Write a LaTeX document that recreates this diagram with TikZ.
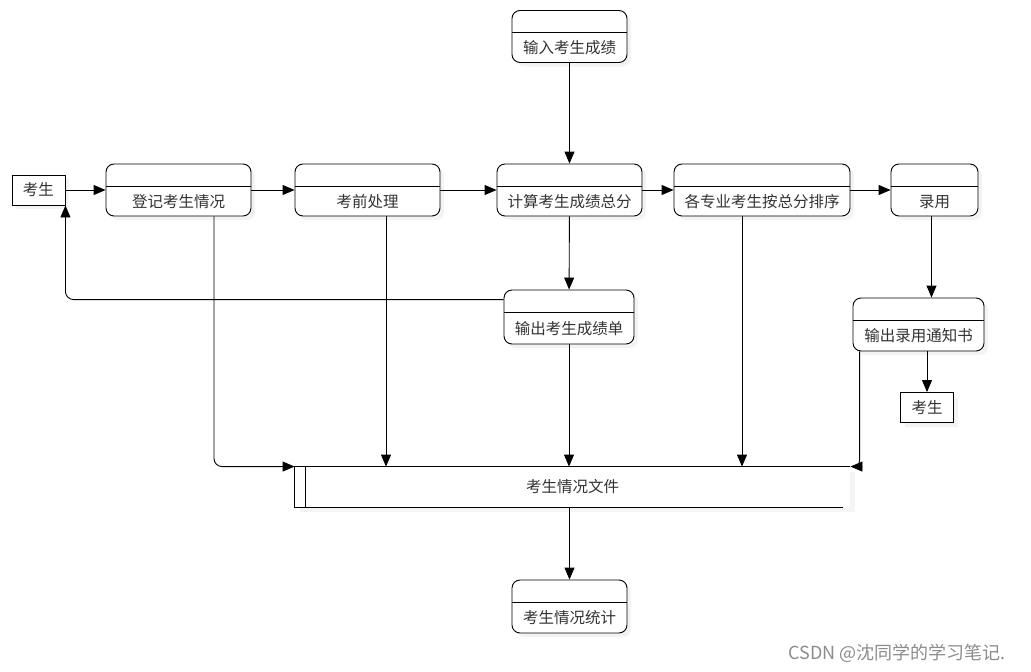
\documentclass[tikz,border=0pt]{standalone}
\usepackage{fontspec}
\setmainfont{Noto Sans CJK SC}
\usetikzlibrary{arrows.meta, shadows}
\tikzset{
  proc/.style={draw, fill=white, rounded corners=8pt, minimum height=52pt,
    inner ysep=0pt, text height=43pt, text depth=9pt,
    drop shadow={shadow xshift=4pt, shadow yshift=-4pt, fill=black!9},
    path picture={\draw[line width=0.9pt] ([yshift=-22pt]path picture bounding box.north west)
      -- ([yshift=-22pt]path picture bounding box.north east);}},
  ent/.style={draw, fill=white, minimum width=53pt, minimum height=30pt, inner sep=0pt,
    drop shadow={shadow xshift=4pt, shadow yshift=-4pt, fill=black!9}},
  store/.style={fill=white, minimum width=555pt, minimum height=40pt, inner sep=0pt,
    drop shadow={shadow xshift=5pt, shadow yshift=-5pt, fill=black!8}},
  flow/.style={-{Triangle[length=12pt, width=10pt]}}
}

\begin{document}
\begin{tikzpicture}[x=1pt, y=-1pt, line width=0.9pt, text=black!80,
    font=\fontsize{15.5pt}{18pt}\selectfont]
\useasboundingbox (0,0) rectangle (1031,672);

% processes
\node[proc, minimum width=115pt] (inp) at (569.5,36.5) {输入考生成绩};
\node[proc, minimum width=145pt] (reg) at (178.5,190) {登记考生情况};
\node[proc, minimum width=145pt] (pre) at (367.5,190) {考前处理};
\node[proc, minimum width=145pt] (calc) at (569.5,190) {计算考生成绩总分};
\node[proc, minimum width=176pt] (sort) at (762,190) {各专业考生按总分排序};
\node[proc, minimum width=87pt] (adm) at (934.5,190) {录用};
\node[proc, minimum width=130pt, minimum height=54pt] (rep) at (569,317) {输出考生成绩单};
\node[proc, minimum width=131pt, minimum height=53pt] (note) at (918.5,324.5) {输出录用通知书};
\node[proc, minimum width=115pt, minimum height=53pt] (stat) at (569.5,606.5) {考生情况统计};

% external entities
\node[ent] (stu1) at (38.5,190) {考生};
\node[ent] (stu2) at (927,407.5) {考生};

% data store
\node[store] (file) at (572.5,487) {考生情况文件};
\draw (file.north east) -- (file.north west) -- (file.south west) -- ([xshift=-7pt]file.south east);
\draw ([xshift=11pt]file.north west) -- ([xshift=11pt]file.south west);

% flows
\draw[flow] (stu1) -- (reg);
\draw[flow] (reg) -- (pre);
\draw[flow] (pre) -- (calc);
\draw[flow] (calc) -- (sort);
\draw[flow] (sort) -- (adm);
\draw[flow] (inp) -- (calc);
\draw[flow] (calc) -- (rep);
\draw[flow] ([xshift=-3pt]adm.south) -- ([xshift=-3pt]adm.south |- note.north);
\draw[flow] (note.south -| stu2.north) -- (stu2.north);

\coordinate (repout) at ([yshift=-10pt]rep.north west);
\draw[flow, rounded corners=8pt] (repout) -| (stu1.south east);

\coordinate (regout) at ([xshift=35.5pt]reg.south);
\coordinate (preout) at ([xshift=18.5pt]pre.south);
\coordinate (sortout) at ([xshift=-20pt]sort.south);
\coordinate (noteout) at ([xshift=7pt]note.south west);
\draw[flow, rounded corners=8pt] (regout) |- (file.north west);
\draw[flow] (preout) -- (preout |- file.north);
\draw[flow] (rep.south) -- (rep.south |- file.north);
\draw[flow] (sortout) -- (sortout |- file.north);
\draw[flow, rounded corners=6pt] (noteout) |- (file.north east);
\draw[flow] (file.south -| stat.north) -- (stat.north);

\node[text=black!45, font=\fontsize{18pt}{20pt}\selectfont] (mark) at (897,653) {CSDN @沈同学的学习笔记.};
\end{tikzpicture}
\end{document}
